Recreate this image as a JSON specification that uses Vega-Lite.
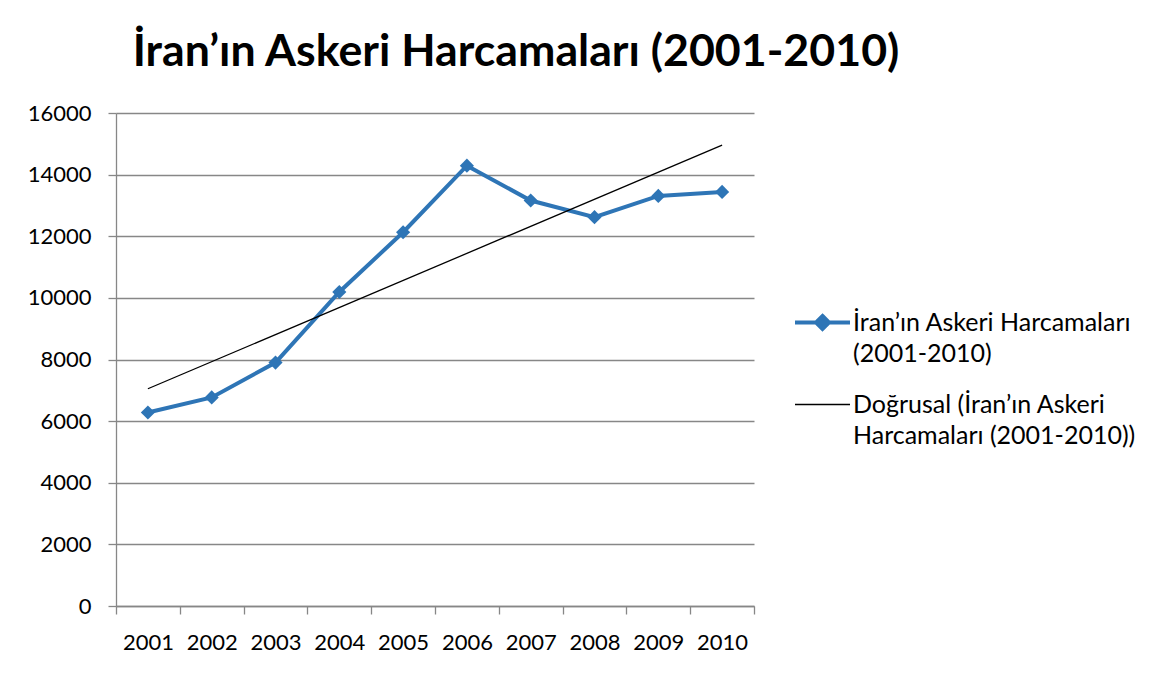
{
  "$schema": "https://vega.github.io/schema/vega-lite/v6.json",
  "width": 638,
  "height": 493,
  "autosize": {"type": "none"},
  "padding": {"left": 116, "top": 113, "right": 412, "bottom": 69},
  "background": "white",
  "data": {
    "values": [
      {"year": "2001", "value": 6280, "series": "İran’ın Askeri Harcamaları (2001-2010)"},
      {"year": "2002", "value": 6770, "series": "İran’ın Askeri Harcamaları (2001-2010)"},
      {"year": "2003", "value": 7900, "series": "İran’ın Askeri Harcamaları (2001-2010)"},
      {"year": "2004", "value": 10190, "series": "İran’ın Askeri Harcamaları (2001-2010)"},
      {"year": "2005", "value": 12130, "series": "İran’ın Askeri Harcamaları (2001-2010)"},
      {"year": "2006", "value": 14290, "series": "İran’ın Askeri Harcamaları (2001-2010)"},
      {"year": "2007", "value": 13160, "series": "İran’ın Askeri Harcamaları (2001-2010)"},
      {"year": "2008", "value": 12620, "series": "İran’ın Askeri Harcamaları (2001-2010)"},
      {"year": "2009", "value": 13310, "series": "İran’ın Askeri Harcamaları (2001-2010)"},
      {"year": "2010", "value": 13440, "series": "İran’ın Askeri Harcamaları (2001-2010)"},
      {"year": "2001", "value": 7050, "series": "Doğrusal (İran’ın Askeri Harcamaları (2001-2010))"},
      {"year": "2010", "value": 14960, "series": "Doğrusal (İran’ın Askeri Harcamaları (2001-2010))"}
    ]
  },
  "title": {
    "text": "İran’ın Askeri Harcamaları (2001-2010)",
    "font": "Lato",
    "fontWeight": "bold",
    "fontSize": 44.7,
    "color": "black",
    "anchor": "middle",
    "dx": 81,
    "dy": 39,
    "baseline": "alphabetic",
    "offset": 30
  },
  "encoding": {
    "x": {
      "field": "year",
      "type": "ordinal",
      "scale": {"type": "band", "paddingInner": 0, "paddingOuter": 0, "domain": ["2001","2002","2003","2004","2005","2006","2007","2008","2009","2010"]},
      "axis": {
        "title": null,
        "labelAngle": 0,
        "tickBand": "extent",
        "tickSize": 8,
        "labelPadding": 18,
        "labelBaseline": "top",
        "grid": false
      }
    },
    "y": {
      "field": "value",
      "type": "quantitative",
      "scale": {"domain": [0, 16000], "nice": false},
      "axis": {
        "title": null,
        "values": [0, 2000, 4000, 6000, 8000, 10000, 12000, 14000, 16000],
        "format": "d",
        "tickSize": 8,
        "labelPadding": 17,
        "grid": true
      }
    }
  },
  "layer": [
    {
      "transform": [{"filter": {"field": "series", "equal": "İran’ın Askeri Harcamaları (2001-2010)"}}],
      "mark": {"type": "line", "color": "#2E75B6", "strokeWidth": 4}
    },
    {
      "transform": [{"filter": {"field": "series", "equal": "İran’ın Askeri Harcamaları (2001-2010)"}}],
      "mark": {"type": "point", "shape": "diamond", "filled": true, "color": "#2E75B6", "size": 200, "opacity": 1}
    },
    {
      "transform": [{"filter": {"field": "series", "equal": "Doğrusal (İran’ın Askeri Harcamaları (2001-2010))"}}],
      "mark": {"type": "line", "color": "black", "strokeWidth": 1.3}
    },
    {
      "transform": [{"filter": "false"}],
      "mark": {"type": "point", "opacity": 1},
      "encoding": {
        "shape": {
          "field": "series",
          "type": "nominal",
          "scale": {
            "domain": ["İran’ın Askeri Harcamaları (2001-2010)", "Doğrusal (İran’ın Askeri Harcamaları (2001-2010))"],
            "range": ["M-1,0L1,0M0,-0.236L0.236,0L0,0.236L-0.236,0Z", "M-1,0L1,0"]
          },
          "legend": {
            "title": null,
            "orient": "none",
            "legendX": 677,
            "legendY": 180,
            "padding": 0,
            "rowPadding": 9,
            "labelOffset": 1,
            "labelBaseline": "middle",
            "labelExpr": "datum.label == 'İran’ın Askeri Harcamaları (2001-2010)' ? ['İran’ın Askeri Harcamaları', '(2001-2010)'] : ['Doğrusal (İran’ın Askeri', 'Harcamaları (2001-2010))']"
          }
        },
        "fill": {
          "field": "series",
          "type": "nominal",
          "scale": {
            "domain": ["İran’ın Askeri Harcamaları (2001-2010)", "Doğrusal (İran’ın Askeri Harcamaları (2001-2010))"],
            "range": ["#2E75B6", "transparent"]
          }
        },
        "stroke": {
          "field": "series",
          "type": "nominal",
          "scale": {
            "domain": ["İran’ın Askeri Harcamaları (2001-2010)", "Doğrusal (İran’ın Askeri Harcamaları (2001-2010))"],
            "range": ["#2E75B6", "black"]
          }
        },
        "strokeWidth": {
          "field": "series",
          "type": "nominal",
          "scale": {
            "domain": ["İran’ın Askeri Harcamaları (2001-2010)", "Doğrusal (İran’ın Askeri Harcamaları (2001-2010))"],
            "range": [4, 1.3]
          }
        }
      }
    }
  ],
  "config": {
    "view": {"stroke": null},
    "font": "Lato",
    "axis": {
      "labelFont": "Lato",
      "labelFontSize": 22,
      "labelColor": "black",
      "domainColor": "#878787",
      "tickColor": "#878787",
      "gridColor": "#878787",
      "domainWidth": 1.3,
      "tickWidth": 1.3,
      "gridWidth": 1.3
    },
    "legend": {
      "labelFont": "Lato",
      "labelFontSize": 25,
      "labelColor": "black",
      "labelLimit": 500,
      "symbolSize": 3025
    },
    "style": {
      "guide-label": {"lineHeight": 31}
    }
  }
}
